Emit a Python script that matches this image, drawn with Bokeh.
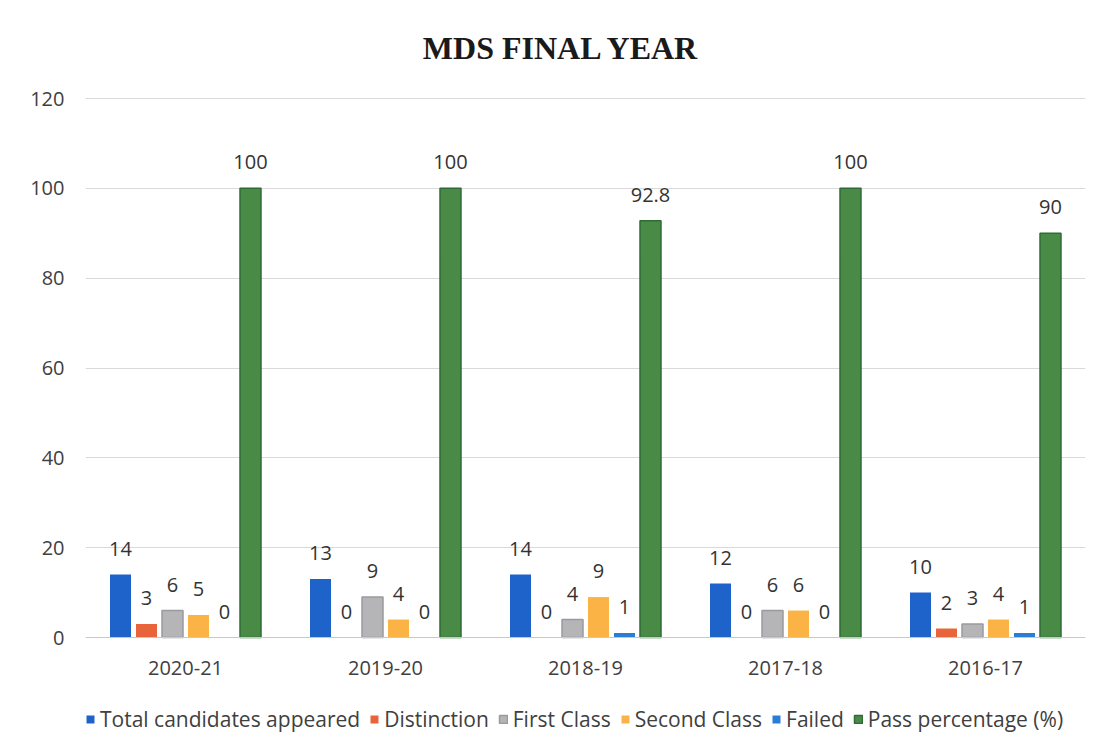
from bokeh.plotting import figure
from bokeh.models import ColumnDataSource, FactorRange, Legend, LegendItem, Label
from bokeh.transform import dodge
from bokeh.core.properties import value
from bokeh.embed import file_html
from bokeh.resources import INLINE

years = ["2020-21", "2019-20", "2018-19", "2017-18", "2016-17"]
total = [14, 13, 14, 12, 10]
distinction = [3, 0, 0, 0, 2]
first_class = [6, 9, 4, 6, 3]
second_class = [5, 4, 9, 6, 4]
failed = [0, 0, 1, 0, 1]
pass_pct = [100, 100, 92.8, 100, 90]
y_ticks = [0, 20, 40, 60, 80, 100, 120]
title_text = "MDS FINAL YEAR"

series = [
    ("total", "Total candidates appeared", total, "#1e63c9", None),
    ("distinction", "Distinction", distinction, "#e8643a", None),
    ("first", "First Class", first_class, "#b5b5b8", "#9a9a9e"),
    ("second", "Second Class", second_class, "#fcb346", None),
    ("failed", "Failed", failed, "#2b7cd6", None),
    ("pass", "Pass percentage (%)", pass_pct, "#4a8a47", "#2f6b34"),
]

data = {"year": years}
for key, _, vals, _, _ in series:
    data[key] = vals
    data[key + "_txt"] = [f"{v:g}" for v in vals]
src = ColumnDataSource(data)

FONT = "Open Sans"

# frame: 539 px for 0..120, plus room above for the title and below for labels + legend
px_per_unit = 539 / 120
y_bottom = -100 / px_per_unit
y_top = 120 + 90 / px_per_unit

p = figure(x_range=FactorRange(factors=years, range_padding=0), y_range=(y_bottom, y_top),
           frame_width=1000, frame_height=729, output_backend="svg", toolbar_location=None,
           min_border_left=85, min_border_right=16, min_border_top=8, min_border_bottom=0)

p.outline_line_color = None
p.background_fill_color = "white"
p.border_fill_color = "white"

p.add_layout(Label(x=2.38, y=120 + 51 / px_per_unit, text=title_text,
                   text_font="Liberation Serif", text_font_style="bold",
                   text_font_size="32px", text_color="#1a1a1a",
                   text_align="center", text_baseline="middle"))

step = 0.13
width = 0.105
items = []
for i, (key, label, vals, color, edge) in enumerate(series):
    off = (i - 2.5) * step
    r = p.vbar(x=dodge("year", off, range=p.x_range), top=key, width=width,
               source=src, fill_color=color, line_color=edge, line_width=1.5)
    p.text(x=dodge("year", off, range=p.x_range), y=key, text=key + "_txt", source=src,
           text_font=value(FONT), text_font_size="20px", text_color="#333333",
           text_align="center", text_baseline="alphabetic", y_offset=-26)
    items.append(LegendItem(label=label, renderers=[r]))

p.yaxis.ticker = y_ticks
p.yaxis.axis_line_color = None
p.yaxis.major_tick_line_color = None
p.yaxis.minor_tick_line_color = None
p.yaxis.major_label_text_font = FONT
p.yaxis.major_label_text_font_size = "20px"
p.yaxis.major_label_text_color = "#404040"
p.yaxis.major_label_standoff = 15

p.xaxis.fixed_location = 0
p.xaxis.axis_line_color = "#c8c8c8"
p.xaxis.major_tick_line_color = None
p.xaxis.minor_tick_line_color = None
p.xaxis.major_label_text_font = FONT
p.xaxis.major_label_text_font_size = "20px"
p.xaxis.major_label_text_color = "#404040"
p.xaxis.major_label_standoff = 17

p.xgrid.grid_line_color = None
p.ygrid.ticker = y_ticks
p.ygrid.grid_line_color = "#d9d9d9"
p.ygrid.grid_line_width = 1

legend = Legend(items=items, orientation="horizontal", location=(0, 4),
                label_text_font=FONT, label_text_font_size="21px", label_text_color="#404040",
                glyph_width=10, glyph_height=10, label_standoff=5, spacing=9,
                padding=0, margin=0, border_line_color=None, background_fill_alpha=0)
p.add_layout(legend, "center")

open("out.html", "w").write(file_html(p, INLINE))
